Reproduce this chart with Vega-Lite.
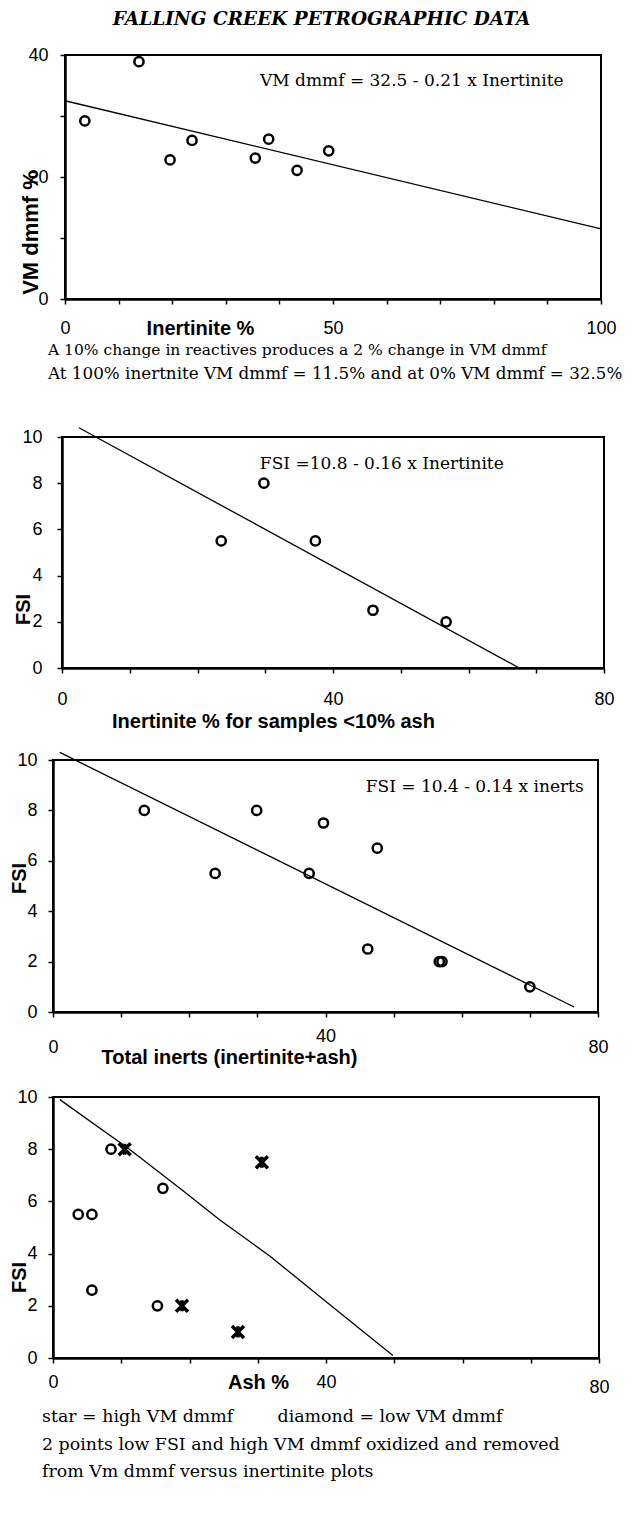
{
  "$schema": "https://vega.github.io/schema/vega-lite/v6.json",
  "background": "white",
  "padding": {"left": 9, "top": 9, "right": 0, "bottom": 0},
  "bounds": "flush",
  "spacing": 0,
  "title": {
    "text": "FALLING CREEK PETROGRAPHIC DATA",
    "font": "DejaVu Serif",
    "fontSize": 18.5,
    "fontWeight": "bold",
    "fontStyle": "italic",
    "color": "black",
    "anchor": "middle",
    "frame": "group",
    "offset": 18,
    "dx": -8
  },
  "config": {
    "view": {"stroke": null},
    "axis": {
      "grid": false,
      "domainColor": "black",
      "domainWidth": 2.5,
      "tickColor": "black",
      "tickWidth": 1.5,
      "tickSize": 5,
      "labelFont": "Liberation Sans",
      "labelFontSize": 18,
      "labelColor": "black",
      "labelFlush": false,
      "labelOverlap": false,
      "labelPadding": 12,
      "titleFont": "Liberation Sans",
      "titleFontSize": 20,
      "titleFontWeight": "bold",
      "titleColor": "black",
      "titleAlign": "center",
      "titleBaseline": "middle"
    },
    "text": {"font": "DejaVu Serif", "fontSize": 17, "color": "black"}
  },
  "datasets": {
    "note": [{}],
    "vm_inertinite": [
      {"inertinite": 3.7, "vm": 29.2},
      {"inertinite": 13.8, "vm": 38.9},
      {"inertinite": 19.6, "vm": 22.8},
      {"inertinite": 23.7, "vm": 26.0},
      {"inertinite": 35.5, "vm": 23.1},
      {"inertinite": 38.0, "vm": 26.2},
      {"inertinite": 43.3, "vm": 21.1},
      {"inertinite": 49.2, "vm": 24.3}
    ],
    "vm_fit": [
      {"inertinite": 0, "vm": 32.5},
      {"inertinite": 100, "vm": 11.5}
    ],
    "fsi_inertinite": [
      {"inertinite": 23.5, "fsi": 5.5},
      {"inertinite": 29.8, "fsi": 8.0},
      {"inertinite": 37.4, "fsi": 5.5},
      {"inertinite": 45.9, "fsi": 2.5},
      {"inertinite": 56.7, "fsi": 2.0}
    ],
    "fsi_inertinite_fit": [
      {"inertinite": 2.5, "fsi": 10.4},
      {"inertinite": 67.5, "fsi": 0}
    ],
    "fsi_inerts": [
      {"inerts": 13.4, "fsi": 8.0},
      {"inerts": 23.8, "fsi": 5.5},
      {"inerts": 29.9, "fsi": 8.0},
      {"inerts": 37.6, "fsi": 5.5},
      {"inerts": 39.7, "fsi": 7.5},
      {"inerts": 47.6, "fsi": 6.5},
      {"inerts": 46.2, "fsi": 2.5},
      {"inerts": 56.7, "fsi": 2.0},
      {"inerts": 57.1, "fsi": 2.0},
      {"inerts": 70.0, "fsi": 1.0}
    ],
    "fsi_inerts_fit": [
      {"inerts": 1.0, "fsi": 10.3},
      {"inerts": 76.5, "fsi": 0.2}
    ],
    "fsi_ash": [
      {"ash": 8.5, "fsi": 8.0, "vm": "low VM dmmf"},
      {"ash": 16.1, "fsi": 6.5, "vm": "low VM dmmf"},
      {"ash": 3.7, "fsi": 5.5, "vm": "low VM dmmf"},
      {"ash": 5.7, "fsi": 5.5, "vm": "low VM dmmf"},
      {"ash": 5.7, "fsi": 2.6, "vm": "low VM dmmf"},
      {"ash": 15.3, "fsi": 2.0, "vm": "low VM dmmf"},
      {"ash": 10.5, "fsi": 8.0, "vm": "high VM dmmf"},
      {"ash": 30.6, "fsi": 7.5, "vm": "high VM dmmf"},
      {"ash": 18.9, "fsi": 2.0, "vm": "high VM dmmf"},
      {"ash": 27.1, "fsi": 1.0, "vm": "high VM dmmf"}
    ],
    "fsi_ash_trend": [
      {"ash": 1.0, "fsi": 9.9},
      {"ash": 11.2, "fsi": 8.0},
      {"ash": 19.1, "fsi": 6.4},
      {"ash": 24.4, "fsi": 5.3},
      {"ash": 31.8, "fsi": 3.9},
      {"ash": 40.3, "fsi": 2.1},
      {"ash": 49.8, "fsi": 0.1}
    ]
  },
  "vconcat": [
    {
      "width": 553,
      "height": 382,
      "layer": [
        {
          "data": {"name": "vm_inertinite"},
          "mark": {"type": "point", "shape": "circle", "filled": false, "stroke": "black", "strokeWidth": 2.5, "size": 85, "opacity": 1},
          "encoding": {
            "x": {
              "field": "inertinite", "type": "quantitative",
              "scale": {"domain": [0, 100], "range": [12, 548], "nice": false, "zero": false},
              "axis": {
                "title": "Inertinite %", "offset": -138,
                "values": [0, 10, 20, 30, 40, 50, 60, 70, 80, 90, 100],
                "labelExpr": "datum.value % 50 === 0 ? datum.label : ''",
                "labelPadding": 24, "labelBaseline": "middle",
                "titleX": 147, "titleY": 29
              }
            },
            "y": {
              "field": "vm", "type": "quantitative",
              "scale": {"domain": [0, 40], "range": [244, 0], "nice": false, "zero": false},
              "axis": {
                "title": "VM dmmf %", "offset": -12,
                "values": [0, 10, 20, 30, 40],
                "labelExpr": "datum.value % 20 === 0 ? datum.label : ''",
                "titleFontSize": 22,
                "titleX": -35, "titleY": 177
              }
            }
          }
        },
        {
          "data": {"name": "vm_fit"},
          "mark": {"type": "line", "color": "black", "strokeWidth": 1.3},
          "encoding": {
            "x": {"field": "inertinite", "type": "quantitative"},
            "y": {"field": "vm", "type": "quantitative"}
          }
        },
        {
          "data": {"name": "note"},
          "mark": {"type": "rect", "fill": null, "stroke": "black", "strokeWidth": 2},
          "encoding": {
            "x": {"datum": 0}, "x2": {"datum": 100},
            "y": {"datum": 0}, "y2": {"datum": 40}
          }
        },
        {
          "data": {"name": "note"},
          "mark": {"type": "text", "text": "VM dmmf = 32.5 - 0.21 x Inertinite"},
          "encoding": {"x": {"datum": 64.7}, "y": {"datum": 35.7}}
        }
      ]
    },
    {
      "width": 553,
      "height": 323,
      "title": {
        "text": "A 10% change in reactives produces a 2 % change in VM dmmf",
        "subtitle": "At 100% inertnite VM dmmf = 11.5% and at 0% VM dmmf = 32.5%",
        "orient": "top",
        "anchor": "start",
        "frame": "group",
        "font": "DejaVu Serif",
        "fontSize": 15.5,
        "fontWeight": "normal",
        "color": "black",
        "subtitleFont": "DejaVu Serif",
        "subtitleFontSize": 16.75,
        "subtitleColor": "black",
        "subtitlePadding": 8,
        "offset": 42,
        "dx": -5
      },
      "layer": [
        {
          "data": {"name": "fsi_inertinite"},
          "mark": {"type": "point", "shape": "circle", "filled": false, "stroke": "black", "strokeWidth": 2.5, "size": 85, "opacity": 1},
          "encoding": {
            "x": {
              "field": "inertinite", "type": "quantitative",
              "scale": {"domain": [0, 80], "range": [9, 551], "nice": false, "zero": false},
              "axis": {
                "title": "Inertinite % for samples <10% ash", "offset": -92,
                "values": [0, 10, 20, 30, 40, 50, 60, 70, 80],
                "labelExpr": "datum.value % 40 === 0 ? datum.label : ''",
                "labelPadding": 26, "labelBaseline": "middle",
                "titleX": 220, "titleY": 53
              }
            },
            "y": {
              "field": "fsi", "type": "quantitative",
              "scale": {"domain": [0, 10], "range": [231, 0], "nice": false, "zero": false},
              "axis": {
                "title": "FSI", "offset": -9,
                "values": [0, 1, 2, 3, 4, 5, 6, 7, 8, 9, 10],
                "labelExpr": "datum.value % 2 === 0 ? datum.label : ''",
                "labelPadding": 15,
                "titleX": -39, "titleY": 172
              }
            }
          }
        },
        {
          "data": {"name": "fsi_inertinite_fit"},
          "mark": {"type": "line", "color": "black", "strokeWidth": 1.3},
          "encoding": {
            "x": {"field": "inertinite", "type": "quantitative"},
            "y": {"field": "fsi", "type": "quantitative"}
          }
        },
        {
          "data": {"name": "note"},
          "mark": {"type": "rect", "fill": null, "stroke": "black", "strokeWidth": 2},
          "encoding": {
            "x": {"datum": 0}, "x2": {"datum": 80},
            "y": {"datum": 0}, "y2": {"datum": 10}
          }
        },
        {
          "data": {"name": "note"},
          "mark": {"type": "text", "text": "FSI =10.8 - 0.16 x Inertinite"},
          "encoding": {"x": {"datum": 47.2}, "y": {"datum": 8.83}}
        }
      ]
    },
    {
      "width": 553,
      "height": 337,
      "layer": [
        {
          "data": {"name": "fsi_inerts"},
          "mark": {"type": "point", "shape": "circle", "filled": false, "stroke": "black", "strokeWidth": 2.5, "size": 85, "opacity": 1},
          "encoding": {
            "x": {
              "field": "inerts", "type": "quantitative",
              "scale": {"domain": [0, 80], "range": [0, 545], "nice": false, "zero": false},
              "axis": {
                "title": "Total inerts (inertinite+ash)", "offset": -85,
                "values": [0, 10, 20, 30, 40, 50, 60, 70, 80],
                "labelExpr": "datum.value % 40 === 0 ? datum.label : ''",
                "labelPadding": {"condition": {"test": "datum.value === 40", "value": 19}, "value": 30},
                "labelBaseline": "middle",
                "titleX": 176, "titleY": 45
              }
            },
            "y": {
              "field": "fsi", "type": "quantitative",
              "scale": {"domain": [0, 10], "range": [252, 0], "nice": false, "zero": false},
              "axis": {
                "title": "FSI",
                "values": [0, 1, 2, 3, 4, 5, 6, 7, 8, 9, 10],
                "labelExpr": "datum.value % 2 === 0 ? datum.label : ''",
                "labelPadding": 11,
                "titleX": -34, "titleY": 118
              }
            }
          }
        },
        {
          "data": {"name": "fsi_inerts_fit"},
          "mark": {"type": "line", "color": "black", "strokeWidth": 1.3},
          "encoding": {
            "x": {"field": "inerts", "type": "quantitative"},
            "y": {"field": "fsi", "type": "quantitative"}
          }
        },
        {
          "data": {"name": "note"},
          "mark": {"type": "rect", "fill": null, "stroke": "black", "strokeWidth": 2},
          "encoding": {
            "x": {"datum": 0}, "x2": {"datum": 80},
            "y": {"datum": 0}, "y2": {"datum": 10}
          }
        },
        {
          "data": {"name": "note"},
          "mark": {"type": "text", "text": "FSI = 10.4 - 0.14 x inerts"},
          "encoding": {"x": {"datum": 61.9}, "y": {"datum": 8.93}}
        }
      ]
    },
    {
      "width": 553,
      "height": 261,
      "title": {
        "text": [
          "star = high VM dmmf\u00a0\u00a0\u00a0\u00a0\u00a0\u00a0\u00a0 diamond = low VM dmmf",
          "2 points low FSI and high VM dmmf oxidized and removed",
          "from Vm dmmf versus inertinite plots"
        ],
        "orient": "bottom",
        "anchor": "start",
        "frame": "group",
        "font": "DejaVu Serif",
        "fontSize": 17.4,
        "fontWeight": "normal",
        "color": "black",
        "lineHeight": 27.5,
        "offset": 12,
        "dx": -11
      },
      "layer": [
        {
          "data": {"name": "fsi_ash"},
          "mark": {"type": "point", "filled": false, "stroke": "black", "strokeWidth": 2.5, "size": 85, "opacity": 1},
          "encoding": {
            "x": {
              "field": "ash", "type": "quantitative",
              "scale": {"domain": [0, 80], "range": [0, 546], "nice": false, "zero": false},
              "axis": {
                "title": "Ash %",
                "values": [0, 10, 20, 30, 40, 50, 60, 70, 80],
                "labelExpr": "datum.value % 40 === 0 ? datum.label : ''",
                "labelPadding": {"condition": {"test": "datum.value === 80", "value": 24}, "value": 19},
                "labelBaseline": "middle",
                "titleX": 205, "titleY": 24
              }
            },
            "y": {
              "field": "fsi", "type": "quantitative",
              "scale": {"domain": [0, 10], "range": [261, 0], "nice": false, "zero": false},
              "axis": {
                "title": "FSI",
                "values": [0, 1, 2, 3, 4, 5, 6, 7, 8, 9, 10],
                "labelExpr": "datum.value % 2 === 0 ? datum.label : ''",
                "labelPadding": 11,
                "titleX": -34, "titleY": 180
              }
            },
            "shape": {
              "field": "vm", "type": "nominal",
              "scale": {
                "domain": ["low VM dmmf", "high VM dmmf"],
                "range": ["circle", "M-1.3,-1.3L1.3,1.3M-1.3,1.3L1.3,-1.3M0,-1.2L0,1.2"]
              },
              "legend": null
            },
            "strokeWidth": {
              "field": "vm", "type": "nominal",
              "scale": {"domain": ["low VM dmmf", "high VM dmmf"], "range": [2.5, 3.5]},
              "legend": null
            }
          }
        },
        {
          "data": {"name": "fsi_ash_trend"},
          "mark": {"type": "line", "color": "black", "strokeWidth": 1.3},
          "encoding": {
            "x": {"field": "ash", "type": "quantitative"},
            "y": {"field": "fsi", "type": "quantitative"}
          }
        },
        {
          "data": {"name": "note"},
          "mark": {"type": "rect", "fill": null, "stroke": "black", "strokeWidth": 2},
          "encoding": {
            "x": {"datum": 0}, "x2": {"datum": 80},
            "y": {"datum": 0}, "y2": {"datum": 10}
          }
        }
      ]
    }
  ]
}
